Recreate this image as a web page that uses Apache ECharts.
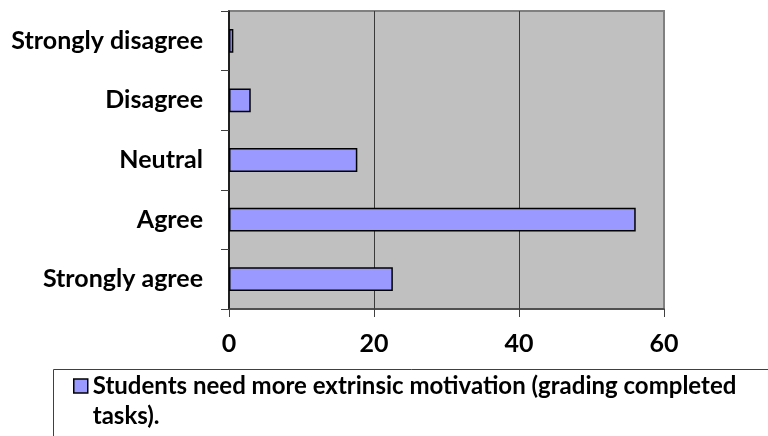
<!DOCTYPE html>
<html>
<head>
<meta charset="utf-8">
<script src="https://cdn.jsdelivr.net/npm/echarts@6/dist/echarts.min.js"></script>
<style>
  html, body { margin: 0; padding: 0; background: #ffffff; }
  #chart { width: 768px; height: 436px; }
</style>
</head>
<body>
<div id="chart"></div>
<script>
// Survey responses (percent of students)
const categories = ['Strongly disagree', 'Disagree', 'Neutral', 'Agree', 'Strongly agree'];
const values = [0.6, 3.0, 17.7, 56.1, 22.6];
const seriesName = 'Students need more extrinsic motivation (grading completed tasks).';
const xTicks = [0, 20, 40, 60];

const FONT = 'Lato, "Open Sans", sans-serif';
const FS = 25;

const chart = echarts.init(document.getElementById('chart'), null, { renderer: 'canvas' });

chart.setOption({
  animation: false,
  backgroundColor: '#ffffff',
  grid: {
    left: 229, right: 104, top: 11, bottom: 127,
    show: true,
    backgroundColor: '#c0c0c0',
    borderColor: '#808080',
    borderWidth: 2
  },
  xAxis: {
    type: 'value',
    min: xTicks[0],
    max: xTicks[xTicks.length - 1],
    interval: xTicks[1] - xTicks[0],
    axisLine: { show: true, lineStyle: { color: '#404040', width: 1.5 } },
    axisTick: { show: true, length: 8, lineStyle: { color: '#404040', width: 1 } },
    splitLine: {
      show: true,
      lineStyle: { color: ['transparent', '#3a3a3a', '#3a3a3a', '#808080'], width: 1 }
    },
    axisLabel: {
      color: '#000', fontFamily: FONT, fontWeight: 'bold', fontSize: FS, margin: 22
    }
  },
  yAxis: {
    type: 'category',
    inverse: true,
    data: categories,
    axisLine: { show: true, lineStyle: { color: '#000', width: 1.5 } },
    axisTick: { show: true, length: 8, lineStyle: { color: '#404040', width: 1 } },
    axisLabel: {
      color: '#000', fontFamily: FONT, fontWeight: 'bold', fontSize: FS, margin: 26
    }
  },
  legend: {
    data: [seriesName],
    left: 73,
    top: 341,
    padding: 0,
    icon: 'rect',
    itemWidth: 14,
    itemHeight: 14,
    itemGap: 0,
    selectedMode: false,
    // leading blank line keeps the marker level with the first text line
    formatter: name => '\n' + name,
    itemStyle: { borderColor: '#000', borderWidth: 1.5 },
    textStyle: {
      color: '#000', fontFamily: FONT, fontWeight: 'bold', fontSize: 24,
      lineHeight: 30, width: 672, overflow: 'break'
    }
  },
  graphic: [{
    type: 'rect',
    silent: true,
    shape: { x: 53.5, y: 369.5, width: 800, height: 120 },
    style: { fill: 'none', stroke: '#404040', lineWidth: 1 }
  }],
  series: [{
    name: seriesName,
    type: 'bar',
    data: values,
    barWidth: '40%',
    itemStyle: { color: '#9999ff', borderColor: '#000', borderWidth: 1.5 }
  }]
});
</script>
</body>
</html>
